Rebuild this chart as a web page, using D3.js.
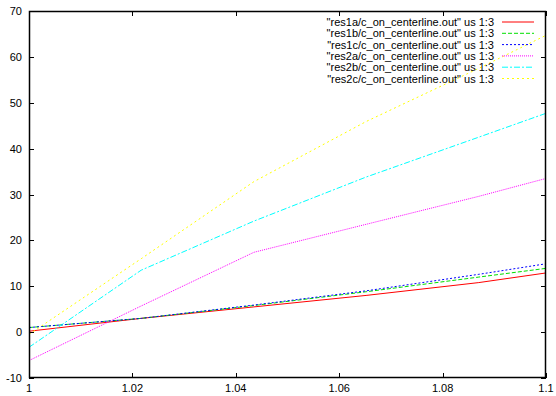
<!doctype html>
<html>
<head>
<meta charset="utf-8" />
<title>c_on_centerline</title>
<style>
  html,body{margin:0;background:#fff}
  svg text{font-family:"Liberation Sans",Arial,sans-serif;font-size:11px;fill:#000}
</style>
</head>
<body>
<svg id="chart" width="556" height="396"></svg>
<script src="https://cdn.jsdelivr.net/npm/d3@7"></script>
<script>
// x positions of the samples (column 1)
const xs = [1, 1.0217, 1.0435, 1.0652, 1.087, 1.1];

// column 3 of each file
const res1a = [0.2, 3.0, 5.5, 8.0, 10.8, 12.9];
const res1b = [1.0, 3.0, 5.8, 8.8, 12.0, 13.9];
const res1c = [1.0, 3.0, 5.9, 9.0, 12.6, 14.9];
const res2a = [-6.2, 5.7, 17.4, 23.5, 29.6, 33.5];
const res2b = [-3.3, 13.5, 24.2, 33.8, 42.5, 47.7];
const res2c = [-0.5, 16.0, 32.8, 45.9, 57.5, 64.7];

const xTicks = [1, 1.02, 1.04, 1.06, 1.08, 1.1];
const yTicks = [-10, 0, 10, 20, 30, 40, 50, 60, 70];

const series = [
  {name: '"res1a/c_on_centerline.out" us 1:3', vals: res1a, color: '#ff0000', dash: null},
  {name: '"res1b/c_on_centerline.out" us 1:3', vals: res1b, color: '#00e000', dash: '4,2'},
  {name: '"res1c/c_on_centerline.out" us 1:3', vals: res1c, color: '#0000ff', dash: '2,2'},
  {name: '"res2a/c_on_centerline.out" us 1:3', vals: res2a, color: '#ff00ff', dash: '1,1'},
  {name: '"res2b/c_on_centerline.out" us 1:3', vals: res2b, color: '#00ffff', dash: '6,2,2,2'},
  {name: '"res2c/c_on_centerline.out" us 1:3', vals: res2c, color: '#ffff00', dash: '2,3'}
];

const svg = d3.select('#chart');
const L = 29, R = 546, T = 11, B = 378;

const x = d3.scaleLinear().domain([1, 1.1]).range([L, R]);
const y = d3.scaleLinear().domain([-10, 70]).range([B, T]);

// clip to the frame
svg.append('clipPath').attr('id', 'clip')
  .append('rect').attr('x', L).attr('y', T).attr('width', R - L).attr('height', B - T);

// ticks (inward, mirrored like gnuplot)
const tk = 5;
const fmtX = d => d3.format('~g')(d);
const g = svg.append('g').attr('stroke', '#000').attr('stroke-width', 1);
xTicks.forEach(t => {
  const px = Math.round(x(t)) + 0.5;
  g.append('line').attr('x1', px).attr('x2', px).attr('y1', B).attr('y2', B - tk);
  g.append('line').attr('x1', px).attr('x2', px).attr('y1', T).attr('y2', T + tk);
});
yTicks.forEach(t => {
  const py = Math.round(y(t)) + 0.5;
  g.append('line').attr('x1', L).attr('x2', L + tk).attr('y1', py).attr('y2', py);
  g.append('line').attr('x1', R).attr('x2', R - tk).attr('y1', py).attr('y2', py);
});

svg.append('g').selectAll('text').data(xTicks).join('text')
  .attr('x', d => x(d)).attr('y', 392)
  .attr('text-anchor', 'middle')
  .text(fmtX);

svg.append('g').selectAll('text').data(yTicks).join('text')
  .attr('x', 22).attr('y', d => y(d) + 4)
  .attr('text-anchor', 'end')
  .text(d => d);

// data lines
const line = d3.line().x((d, i) => x(xs[i])).y(d => y(d));
svg.append('g').attr('clip-path', 'url(#clip)')
  .selectAll('path').data(series).join('path')
  .attr('d', s => line(s.vals))
  .attr('fill', 'none')
  .attr('stroke', s => s.color)
  .attr('stroke-width', 1)
  .attr('stroke-dasharray', s => s.dash);

// legend (top right, inside frame)
const leg = svg.append('g');
series.forEach((s, i) => {
  const yy = 22 + i * 11.3;
  leg.append('text').attr('x', 494).attr('y', yy + 4)
    .attr('text-anchor', 'end').text(s.name);
  leg.append('line').attr('x1', 502).attr('x2', 534)
    .attr('y1', yy).attr('y2', yy)
    .attr('stroke', s.color).attr('stroke-width', 1)
    .attr('stroke-dasharray', s.dash);
});

// frame
svg.append('rect').attr('x', L + 0.5).attr('y', T + 0.5)
  .attr('width', R - L - 1).attr('height', B - T - 1)
  .attr('fill', 'none').attr('stroke', '#000').attr('stroke-width', 1.5);
</script>
</body>
</html>
